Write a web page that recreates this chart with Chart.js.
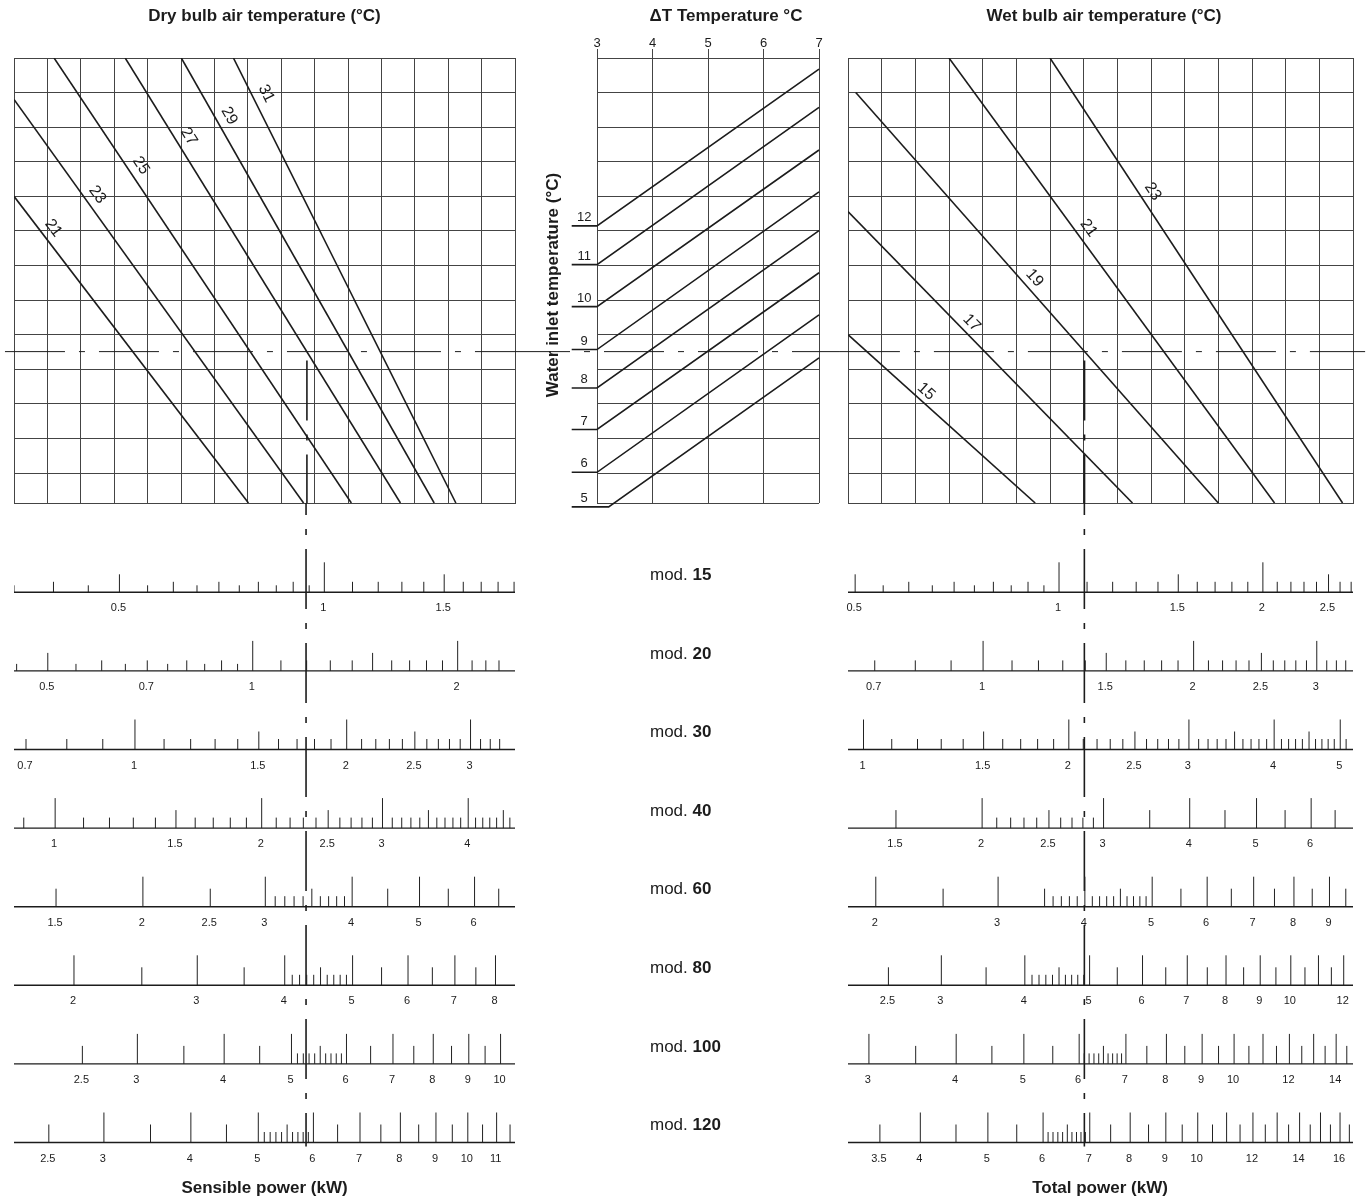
<!DOCTYPE html>
<html lang="en">
<head>
<meta charset="utf-8">
<title>Nomogram</title>
<script src="https://cdn.jsdelivr.net/npm/chart.js@4.4.1/dist/chart.umd.min.js"></script>
<style>
  html, body { margin:0; padding:0; background:#fff; }
  #sheet { position:relative; width:1371px; height:1200px; background:#fff; overflow:hidden; }
  #sheet canvas { position:absolute; }
</style>
</head>
<body>
<div id="sheet">
  <canvas id="dryPanel" width="530" height="520" style="left:0px;top:0px;width:530px;height:520px"></canvas>
  <canvas id="dtPanel" width="310" height="520" style="left:530px;top:0px;width:310px;height:520px"></canvas>
  <canvas id="wetPanel" width="531" height="520" style="left:840px;top:0px;width:531px;height:520px"></canvas>
  <canvas id="sensRulers" width="840" height="710" style="left:0px;top:490px;width:840px;height:710px"></canvas>
  <canvas id="totRulers" width="531" height="710" style="left:840px;top:490px;width:531px;height:710px"></canvas>
</div>
<script>
// ===================== DATA =====================
// grid panels (unit = one grid cell)
const gridRowTicks = [0, 1, 2, 3, 4, 5, 6, 7, 8, 9, 10, 11, 12, 12.867];
const gridBottomRow = 12.867;
const gridCols = 15;

// Dry bulb lines (left panel)
const dryBulbTemps = [21, 23, 25, 27, 29, 31];
const dryStartCol  = [0, 0, 1.2, 3.33, 5.01, 6.57];
const dryStartRow  = [4.0, 1.2, 0, 0, 0, 0];
const dryEndCol    = [7.02, 8.67, 10.1, 11.57, 12.58, 13.23];
const dryEndRow    = [12.867, 12.867, 12.867, 12.867, 12.867, 12.867];
const dryLabelRow  = [4.92, 3.95, 3.11, 2.27, 1.67, 1.03];

// Wet bulb lines (right panel)
const wetBulbTemps = [15, 17, 19, 21, 23];
const wetStartCol  = [0, 0, 0.23, 3.0, 6.0];
const wetStartRow  = [8.0, 4.44, 1.0, 0, 0];
const wetEndCol    = [5.56, 8.45, 11.0, 12.67, 14.69];
const wetEndRow    = [12.867, 12.867, 12.867, 12.867, 12.867];
const wetLabelRow  = [9.64, 7.66, 6.36, 4.92, 3.86];

// Delta T panel
const deltaTTicks   = [3, 4, 5, 6, 7];
const waterTemps    = [5, 6, 7, 8, 9, 10, 11, 12];
const waterStartDT  = [3.21, 3, 3, 3, 3, 3, 3, 3];
const waterStartRow = [12.98, 11.98, 10.74, 9.54, 8.43, 7.19, 5.975, 4.855];
const waterEndDT    = [7, 7, 7, 7, 7, 7, 7, 7];
const waterEndRow   = [8.67, 7.43, 6.21, 4.99, 3.87, 2.66, 1.43, 0.32];
const waterStubDT   = 2.544;
const waterLabelDT  = 2.77;

// reading example (dashed construction lines)
const readRow        = 8.49;
const dryReadCol     = 8.77;
const wetReadCol     = 7.02;
const sensReadValue  = 0.94;
const totReadValue   = 1.09;
const dryGuideCols   = [-0.27, 15.45];
const dtGuideRange   = [1.793, 7.378];
const wetGuideCols   = [-0.24, 15.36];

// power rulers
const rulerModels = [15, 20, 30, 40, 60, 80, 100, 120];

const sensMin = [0.350, 0.446, 0.673, 0.871, 1.305, 1.642, 1.993, 2.228];
const sensMax = [1.906, 2.428, 3.47, 4.68, 6.86, 8.53, 10.49, 11.69];
const sensLabels = [
  [0.5, 1, 1.5],
  [0.5, 0.7, 1, 2],
  [0.7, 1, 1.5, 2, 2.5, 3],
  [1, 1.5, 2, 2.5, 3, 4],
  [1.5, 2, 2.5, 3, 4, 5, 6],
  [2, 3, 4, 5, 6, 7, 8],
  [2.5, 3, 4, 5, 6, 7, 8, 9, 10],
  [2.5, 3, 4, 5, 6, 7, 8, 9, 10, 11]
];
const sensMajor = [
  [1],
  [1, 2],
  [1, 2, 3],
  [1, 2, 3, 4],
  [2, 3, 4, 5, 6],
  [2, 3, 4, 5, 6, 7, 8],
  [3, 4, 5, 6, 7, 8, 9, 10],
  [3, 4, 5, 6, 7, 8, 9, 10, 11]
];
const sensMid = [
  [0.5, 1.5],
  [0.5, 1.5],
  [1.5, 2.5],
  [1.5, 2.5, 3.5, 4.5],
  [1.5, 2.5, 3.5, 4.5, 5.5, 6.5],
  [2.5, 3.5, 4.5, 5.5, 6.5, 7.5],
  [2.5, 3.5, 4.5, 5.5, 6.5, 7.5, 8.5, 9.5],
  [2.5, 3.5, 4.5, 5.5, 6.5, 7.5, 8.5, 9.5, 10.5, 11.5]
];
const sensMinor = [
  [0.4, 0.6, 0.7, 0.8, 0.9, 1.1, 1.2, 1.3, 1.4, 1.6, 1.7, 1.8, 1.9],
  [0.6, 0.7, 0.8, 0.9, 1.1, 1.2, 1.3, 1.4, 1.6, 1.7, 1.8, 1.9, 2.1, 2.2, 2.3],
  [0.7, 0.8, 0.9, 1.1, 1.2, 1.3, 1.4, 1.6, 1.7, 1.8, 1.9, 2.1, 2.2, 2.3, 2.4, 2.6, 2.7, 2.8, 2.9, 3.1, 3.2, 3.3],
  [0.9, 1.1, 1.2, 1.3, 1.4, 1.6, 1.7, 1.8, 1.9, 2.1, 2.2, 2.3, 2.4, 2.6, 2.7, 2.8, 2.9, 3.1, 3.2, 3.3, 3.4, 3.6, 3.7, 3.8, 3.9, 4.1, 4.2, 4.3, 4.4, 4.6],
  [3.1, 3.2, 3.3, 3.4, 3.6, 3.7, 3.8, 3.9],
  [4.1, 4.2, 4.3, 4.4, 4.6, 4.7, 4.8, 4.9],
  [5.1, 5.2, 5.3, 5.4, 5.6, 5.7, 5.8, 5.9],
  [5.1, 5.2, 5.3, 5.4, 5.6, 5.7, 5.8, 5.9]
];
const sensFine = [
  [0.35, 0.45, 0.55, 0.65, 0.75, 0.85, 0.95],
  [0.45, 0.55, 0.65, 0.75, 0.85, 0.95],
  [], [], [], [], [], []
];

const totMin = [0.488, 0.641, 0.949, 1.278, 1.824, 2.175, 2.8, 3.15];
const totMax = [2.717, 3.38, 5.22, 6.9, 9.73, 12.39, 14.8, 16.7];
const totLabels = [
  [0.5, 1, 1.5, 2, 2.5],
  [0.7, 1, 1.5, 2, 2.5, 3],
  [1, 1.5, 2, 2.5, 3, 4, 5],
  [1.5, 2, 2.5, 3, 4, 5, 6],
  [2, 3, 4, 5, 6, 7, 8, 9],
  [2.5, 3, 4, 5, 6, 7, 8, 9, 10, 12],
  [3, 4, 5, 6, 7, 8, 9, 10, 12, 14],
  [3.5, 4, 5, 6, 7, 8, 9, 10, 12, 14, 16]
];
const totMajor = [
  [1, 2],
  [1, 2, 3],
  [1, 2, 3, 4, 5],
  [2, 3, 4, 5, 6],
  [2, 3, 4, 5, 6, 7, 8, 9],
  [3, 4, 5, 6, 7, 8, 9, 10, 11, 12],
  [3, 4, 5, 6, 7, 8, 9, 10, 11, 12, 13, 14],
  [4, 5, 6, 7, 8, 9, 10, 11, 12, 13, 14, 15, 16]
];
const totMid = [
  [0.5, 1.5, 2.5],
  [1.5, 2.5],
  [1.5, 2.5, 3.5, 4.5],
  [1.5, 2.5, 3.5, 4.5, 5.5, 6.5],
  [2.5, 3.5, 4.5, 5.5, 6.5, 7.5, 8.5, 9.5],
  [2.5, 3.5, 4.5, 5.5, 6.5, 7.5, 8.5, 9.5, 10.5, 11.5],
  [3.5, 4.5, 5.5, 6.5, 7.5, 8.5, 9.5, 10.5, 11.5, 12.5, 13.5, 14.5],
  [3.5, 4.5, 5.5, 6.5, 7.5, 8.5, 9.5, 10.5, 11.5, 12.5, 13.5, 14.5, 15.5, 16.5]
];
const totMinor = [
  [0.6, 0.7, 0.8, 0.9, 1.1, 1.2, 1.3, 1.4, 1.6, 1.7, 1.8, 1.9, 2.1, 2.2, 2.3, 2.4, 2.6, 2.7],
  [0.7, 0.8, 0.9, 1.1, 1.2, 1.3, 1.4, 1.6, 1.7, 1.8, 1.9, 2.1, 2.2, 2.3, 2.4, 2.6, 2.7, 2.8, 2.9, 3.1, 3.2, 3.3],
  [1.1, 1.2, 1.3, 1.4, 1.6, 1.7, 1.8, 1.9, 2.1, 2.2, 2.3, 2.4, 2.6, 2.7, 2.8, 2.9, 3.1, 3.2, 3.3, 3.4, 3.6, 3.7, 3.8, 3.9, 4.1, 4.2, 4.3, 4.4, 4.6, 4.7, 4.8, 4.9, 5.1],
  [2.1, 2.2, 2.3, 2.4, 2.6, 2.7, 2.8, 2.9],
  [3.6, 3.7, 3.8, 3.9, 4.1, 4.2, 4.3, 4.4, 4.6, 4.7, 4.8, 4.9],
  [4.1, 4.2, 4.3, 4.4, 4.6, 4.7, 4.8, 4.9],
  [6.1, 6.2, 6.3, 6.4, 6.6, 6.7, 6.8, 6.9],
  [6.1, 6.2, 6.3, 6.4, 6.6, 6.7, 6.8, 6.9]
];
const totFine = [
  [0.55, 0.65, 0.75, 0.85, 0.95],
  [], [], [], [], [], [], []
];

// ===================== STYLE / LAYOUT =====================
const FONT = "'Liberation Sans', Arial, Helvetica, sans-serif";
const INK = '#1c1c1c';
const GRID = '#444444';
const tickHeightPx = { major: 30, mid: 18, minor: 10.5, fine: 7 };
const DASH = [60, 14, 6, 14];
const LABEL_SHIFT = 15;          // px, slope labels sit right of their line
// ruler canvases: canvas top at page y 490
const RULER_BASE0 = 102.3;      // canvas px of first ruler baseline
const RULER_STEP = 78.6;        // px between rulers
const RULER_AREA_TOP = 13;      // canvas px
const RULER_AREA_BOTTOM = 699.7;
const rulerYMin = -(RULER_BASE0 - RULER_AREA_TOP) / RULER_STEP;
const rulerYMax = (RULER_AREA_BOTTOM - RULER_BASE0) / RULER_STEP;

function lineDS(points, extra) {
  return Object.assign({
    type: 'line', data: points, borderColor: INK, borderWidth: 1.5,
    pointRadius: 0, pointHoverRadius: 0, fill: false, tension: 0, spanGaps: false
  }, extra || {});
}

function baseOptions(padding, scales) {
  return {
    responsive: false, maintainAspectRatio: false, animation: false,
    devicePixelRatio: 1, events: [],
    layout: { padding },
    plugins: { legend: { display: false }, title: { display: false }, tooltip: { enabled: false } },
    scales
  };
}

function rowScale() {
  return {
    type: 'linear', min: 0, max: gridBottomRow, reverse: true,
    afterBuildTicks: s => { s.ticks = gridRowTicks.map(v => ({ value: v })); },
    ticks: { display: false },
    grid: { color: GRID, lineWidth: 1, drawTicks: false },
    border: { color: GRID, width: 1 },
    afterFit: s => { s.width = 0; }
  };
}
function colScale(min, max) {
  return {
    type: 'linear', min, max,
    ticks: { display: false, stepSize: 1 },
    grid: { color: GRID, lineWidth: 1, drawTicks: false },
    border: { color: GRID, width: 1 },
    afterFit: s => { s.height = 0; }
  };
}

function slopeLabelPlugin(temps, sc, sr, ec, er, lr, title, titleX) {
  return {
    id: 'slopeLabels',
    afterDatasetsDraw(chart) {
      const { ctx } = chart; const x = chart.scales.x, y = chart.scales.y;
      ctx.save();
      ctx.fillStyle = INK;
      ctx.font = `16px ${FONT}`;
      ctx.textAlign = 'center'; ctx.textBaseline = 'middle';
      temps.forEach((t, i) => {
        const x1 = x.getPixelForValue(sc[i]), y1 = y.getPixelForValue(sr[i]);
        const x2 = x.getPixelForValue(ec[i]), y2 = y.getPixelForValue(er[i]);
        const dx = x2 - x1, dy = y2 - y1;
        const py = y.getPixelForValue(lr[i]);
        const px = x1 + (py - y1) / dy * dx;
        ctx.save();
        ctx.translate(px + LABEL_SHIFT, py);
        ctx.rotate(Math.atan2(dy, dx));
        ctx.fillText(String(t), 0, 0);
        ctx.restore();
      });
      ctx.font = `bold 17px ${FONT}`;
      ctx.fillText(title, titleX, 16);
      ctx.restore();
    }
  };
}

// ===================== LEFT PANEL (dry bulb) =====================
(function () {
  const ds = dryBulbTemps.map((t, i) => lineDS([
    { x: dryStartCol[i], y: dryStartRow[i] }, { x: dryEndCol[i], y: dryEndRow[i] }
  ], { borderWidth: 1.6 }));
  ds.push(lineDS([{ x: dryGuideCols[0], y: readRow }, { x: dryGuideCols[1], y: readRow }],
    { borderWidth: 1, borderDash: DASH, clip: false }));
  ds.push(lineDS([{ x: dryReadCol, y: readRow }, { x: dryReadCol, y: gridBottomRow }],
    { borderWidth: 1.6, borderDash: DASH, borderDashOffset: 85, clip: false }));
  new Chart(document.getElementById('dryPanel'), {
    type: 'line',
    data: { datasets: ds },
    options: baseOptions({ left: 14, right: 15, top: 58, bottom: 17 },
      { x: colScale(0, gridCols), y: rowScale() }),
    plugins: [slopeLabelPlugin(dryBulbTemps, dryStartCol, dryStartRow, dryEndCol, dryEndRow, dryLabelRow,
      'Dry bulb air temperature (°C)', 264.5)]
  });
})();

// ===================== RIGHT PANEL (wet bulb) =====================
(function () {
  const ds = wetBulbTemps.map((t, i) => lineDS([
    { x: wetStartCol[i], y: wetStartRow[i] }, { x: wetEndCol[i], y: wetEndRow[i] }
  ], { borderWidth: 1.6 }));
  ds.push(lineDS([{ x: wetGuideCols[0], y: readRow }, { x: wetGuideCols[1], y: readRow }],
    { borderWidth: 1, borderDash: DASH, clip: false }));
  ds.push(lineDS([{ x: wetReadCol, y: readRow }, { x: wetReadCol, y: gridBottomRow }],
    { borderWidth: 2, borderDash: DASH, borderDashOffset: 85, clip: false }));
  new Chart(document.getElementById('wetPanel'), {
    type: 'line',
    data: { datasets: ds },
    options: baseOptions({ left: 8, right: 18, top: 58, bottom: 17 },
      { x: colScale(0, gridCols), y: rowScale() }),
    plugins: [slopeLabelPlugin(wetBulbTemps, wetStartCol, wetStartRow, wetEndCol, wetEndRow, wetLabelRow,
      'Wet bulb air temperature (°C)', 264)]
  });
})();

// ===================== MIDDLE PANEL (delta T / water inlet) =====================
(function () {
  const ds = waterTemps.map((t, i) => lineDS([
    { x: waterStubDT, y: waterStartRow[i] },
    { x: waterStartDT[i], y: waterStartRow[i] },
    { x: waterEndDT[i], y: waterEndRow[i] }
  ], { borderWidth: 1.6, clip: false }));
  ds.push(lineDS([{ x: dtGuideRange[0], y: readRow }, { x: dtGuideRange[1], y: readRow }],
    { borderWidth: 1, borderDash: DASH, borderDashOffset: 20, clip: false }));
  const y = rowScale();
  new Chart(document.getElementById('dtPanel'), {
    type: 'line',
    data: { datasets: ds },
    options: baseOptions({ left: 67, right: 21, top: 0, bottom: 17 }, {
      x: {
        type: 'linear', position: 'top', min: 3, max: 7,
        afterBuildTicks: s => { s.ticks = deltaTTicks.map(v => ({ value: v })); },
        ticks: { color: INK, font: { family: FONT, size: 13 }, padding: -2, maxRotation: 0, autoSkip: false },
        grid: { color: GRID, lineWidth: 1, drawTicks: true, tickLength: 9 },
        border: { color: GRID, width: 1 },
        afterFit: s => { s.height = 58; }
      },
      y
    }),
    plugins: [{
      id: 'dtText',
      afterDatasetsDraw(chart) {
        const { ctx } = chart; const xs = chart.scales.x, ys = chart.scales.y;
        ctx.save();
        ctx.fillStyle = INK;
        ctx.font = `13px ${FONT}`;
        ctx.textAlign = 'center'; ctx.textBaseline = 'bottom';
        waterTemps.forEach((t, i) => {
          ctx.fillText(String(t), xs.getPixelForValue(waterLabelDT), ys.getPixelForValue(waterStartRow[i]) - 2);
        });
        ctx.textBaseline = 'middle';
        ctx.font = `bold 17px ${FONT}`;
        ctx.fillText('ΔT Temperature °C', 196, 16);
        ctx.save();
        ctx.translate(23, 285);
        ctx.rotate(-Math.PI / 2);
        ctx.fillText('Water inlet temperature (°C)', 0, 0);
        ctx.restore();
        ctx.restore();
      }
    }]
  });
})();

// ===================== RULERS =====================
function buildRulerChart(canvasId, padding, mins, maxs, labels, major, mid, minor, fine, readValue, title, titleX, withModLabels) {
  const scales = {
    y: { type: 'linear', min: rulerYMin, max: rulerYMax, reverse: true, display: false }
  };
  const ds = [];
  rulerModels.forEach((m, i) => {
    const id = 'x' + i;
    const lo = mins[i], hi = maxs[i];
    scales[id] = {
      type: 'logarithmic', min: lo, max: hi, bounds: 'data', display: false,
      afterBuildTicks: s => { s.min = lo; s.max = hi; s.ticks = [{ value: lo }, { value: hi }]; }
    };
    ds.push(lineDS([{ x: lo, y: i }, { x: hi, y: i }], { xAxisID: id, borderWidth: 1.4 }));
    const groups = [[major[i], tickHeightPx.major], [mid[i], tickHeightPx.mid],
                    [minor[i], tickHeightPx.minor], [fine[i], tickHeightPx.fine]];
    groups.forEach(([vals, h]) => {
      if (!vals.length) return;
      const pts = [];
      vals.forEach(v => {
        pts.push({ x: v, y: i });
        pts.push({ x: v, y: i - h / RULER_STEP });
        pts.push({ x: v, y: null });
      });
      ds.push(lineDS(pts, { xAxisID: id, borderWidth: 1, borderColor: '#222' }));
    });
  });
  ds.push(lineDS([{ x: readValue, y: rulerYMin }, { x: readValue, y: 7.05 }],
    { xAxisID: 'x0', borderWidth: 1.6, borderDash: DASH, borderDashOffset: 48 }));

  new Chart(document.getElementById(canvasId), {
    type: 'line',
    data: { datasets: ds },
    options: baseOptions(padding, scales),
    plugins: [{
      id: 'rulerText',
      afterDatasetsDraw(chart) {
        const { ctx } = chart; const ys = chart.scales.y;
        ctx.save();
        ctx.fillStyle = INK;
        ctx.textAlign = 'center'; ctx.textBaseline = 'middle';
        ctx.font = `11px ${FONT}`;
        rulerModels.forEach((m, i) => {
          const xs = chart.scales['x' + i];
          const by = ys.getPixelForValue(i);
          labels[i].forEach(v => {
            ctx.fillText(String(v), xs.getPixelForValue(v) - 1, by + 16);
          });
        });
        if (withModLabels) {
          ctx.textAlign = 'left';
          rulerModels.forEach((m, i) => {
            const by = ys.getPixelForValue(i) - 17;
            ctx.font = `17px ${FONT}`;
            const pre = 'mod. ';
            ctx.fillText(pre, 650, by);
            const w = ctx.measureText(pre).width;
            ctx.font = `bold 17px ${FONT}`;
            ctx.fillText(String(m), 650 + w, by);
          });
          ctx.textAlign = 'center';
        }
        ctx.font = `bold 17px ${FONT}`;
        ctx.fillText(title, titleX, 698);
        ctx.restore();
      }
    }]
  });
}

buildRulerChart('sensRulers', { left: 14, right: 325, top: RULER_AREA_TOP, bottom: 710 - RULER_AREA_BOTTOM },
  sensMin, sensMax, sensLabels, sensMajor, sensMid, sensMinor, sensFine, sensReadValue,
  'Sensible power (kW)', 264.5, true);
buildRulerChart('totRulers', { left: 8, right: 18, top: RULER_AREA_TOP, bottom: 710 - RULER_AREA_BOTTOM },
  totMin, totMax, totLabels, totMajor, totMid, totMinor, totFine, totReadValue,
  'Total power (kW)', 260, false);
</script>
</body>
</html>
